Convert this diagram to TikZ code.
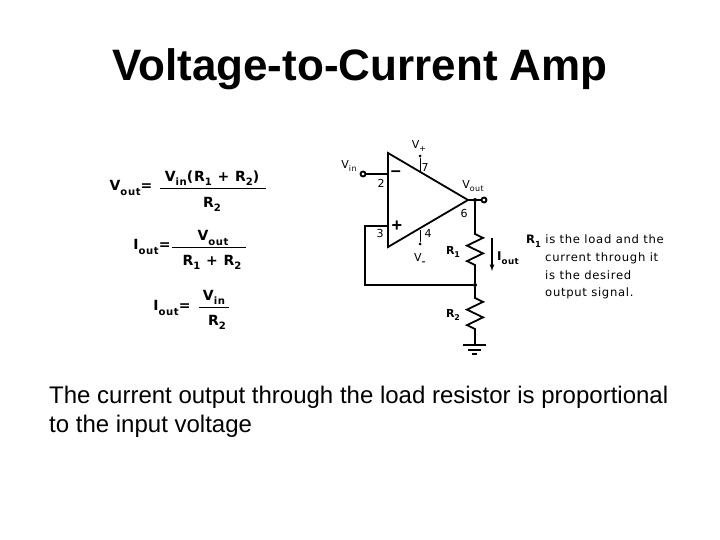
\documentclass[tikz,border=0pt]{standalone}
\usepackage{fontspec}
\setmainfont{Liberation Sans}
\newfontfamily\bitfont[LetterSpace=6]{DejaVu Sans}
\usetikzlibrary{decorations.pathmorphing}
\newcommand{\lowr}[1]{\raisebox{-0.3em}{\fontsize{0.72em}{1em}\selectfont #1}}
\tikzset{
  wire/.style={line width=1.8pt},
  resistor/.style={wire, decorate, decoration={zigzag, segment length=15.5pt, amplitude=8pt, pre length=3pt, post length=3pt}},
  pinlabel/.style={font=\bitfont\fontsize{11}{12}\selectfont, inner sep=0pt},
  partlabel/.style={font=\bitfont\bfseries\fontsize{11}{12}\selectfont, inner sep=0pt},
  eqlabel/.style={font=\bitfont\bfseries\fontsize{14}{16}\selectfont, inner sep=0pt},
  notelabel/.style={inner sep=0pt, anchor=west, font=\bitfont\fontsize{11.6}{17.3}\selectfont},
  port/.style={circle, draw, line width=1.8pt, fill=white, inner sep=0pt, minimum size=5pt},
  dotnode/.style={circle, fill=black, inner sep=0pt, minimum size=4pt}
}
\begin{document}
\begin{tikzpicture}[x=1pt, y=-1pt]
  \useasboundingbox (0,0) rectangle (720,540);

  % Title and caption
  \node (title) at (360,69) [font=\bfseries\fontsize{44}{48}\selectfont] {Voltage-to-Current Amp};
  \node (caption) at (49,412) [anchor=west, align=left, inner sep=0pt, font=\fontsize{24}{29}\selectfont]
    {The current output through the load resistor is proportional\\to the input voltage};

  % Equations
  \node (vouteq) at (131,188) [eqlabel] {V\lowr{out}=};
  \node (voutnum) at (212,178) [eqlabel] {V\lowr{in}(R\lowr{1} + R\lowr{2})};
  \node (voutden) at (212,204) [eqlabel] {R\lowr{2}};
  \coordinate (voutbarl) at (160,188);
  \coordinate (voutbarr) at (266,188);
  \node (iouteq) at (152,247) [eqlabel] {I\lowr{out}=};
  \node (ioutnum) at (213,238) [eqlabel] {V\lowr{out}};
  \node (ioutden) at (212,262) [eqlabel] {R\lowr{1} + R\lowr{2}};
  \coordinate (ioutbarl) at (172,247);
  \coordinate (ioutbarr) at (246,247);
  \node (ineq) at (172,308) [eqlabel] {I\lowr{out}=};
  \node (innum) at (214,297) [eqlabel] {V\lowr{in}};
  \node (inden) at (217,322) [eqlabel] {R\lowr{2}};
  \coordinate (inbarl) at (199,307);
  \coordinate (inbarr) at (229,307);
  \draw (voutbarl) -- (voutbarr);
  \draw (ioutbarl) -- (ioutbarr);
  \draw (inbarl) -- (inbarr);

  % Op amp
  \coordinate (ampa) at (388,153);
  \coordinate (ampb) at (388,247);
  \coordinate (ampc) at (468,200);
  \draw[wire] (ampa) -- (ampc) -- (ampb) -- cycle;
  \coordinate (minus) at (388,174);
  \coordinate (plus) at (388,226);
  \coordinate (vtop) at (420,172);
  \coordinate (vbot) at (420,230);

  % Ports and junctions
  \node (vin) at (363,174) [port] {};
  \node (vout) at (484,200) [port] {};
  \node (joutput) at (475,200) [dotnode] {};
  \node (jfeed) at (475,285) [dotnode] {};
  \node (vplus) at (420,156) [dotnode, minimum size=3pt] {};
  \node (vminus) at (420,244) [dotnode, minimum size=3pt] {};
  \coordinate (r1top) at (475,231);
  \coordinate (r1bot) at (475,275);
  \coordinate (r2top) at (475,295);
  \coordinate (r2bot) at (475,335);
  \coordinate (gnd) at (475,345);
  \coordinate (gnda) at (463,345);
  \coordinate (gndb) at (486,345);
  \coordinate (gndc) at (468,350);
  \coordinate (gndd) at (481,350);
  \coordinate (gnde) at (472,354);
  \coordinate (gndf) at (477,354);
  \coordinate (feedl) at (365,226);
  \coordinate (feedd) at (365,285);
  \coordinate (arrowtop) at (492,238);
  \coordinate (arrowbot) at (492,271);

  % Wires
  \draw[wire] (vin) -- (minus);
  \draw[wire] (ampc) -- (vout);
  \draw[wire] (joutput) -- (r1top);
  \draw[wire] (r1bot) -- (jfeed);
  \draw[wire] (jfeed) -- (r2top);
  \draw[wire] (r2bot) -- (gnd);
  \draw[resistor] (r1top) -- (r1bot);
  \draw[resistor] (r2top) -- (r2bot);
  \draw[wire] (plus) -- (feedl) -- (feedd) -- (jfeed);
  \draw (vplus) -- (vtop);
  \draw (vminus) -- (vbot);
  \draw[wire] (gnda) -- (gndb);
  \draw[wire] (gndc) -- (gndd);
  \draw[wire] (gnde) -- (gndf);
  \draw[-latex, line width=1.2pt] (arrowtop) -- (arrowbot);

  % Labels
  \node (vinlabel) at (349,166) [pinlabel] {V\lowr{in}};
  \node (voutlabel) at (473,186) [pinlabel] {V\lowr{out}};
  \node (vplabel) at (419,146) [pinlabel] {V\lowr{+}};
  \node (vmlabel) at (420,259) [pinlabel] {V\lowr{\textbf{\textendash}}};
  \node (ptwo) at (381,183) [pinlabel] {2};
  \node (pthree) at (380,233) [pinlabel] {3};
  \node (pseven) at (425,167) [pinlabel] {7};
  \node (pfour) at (428,233) [pinlabel] {4};
  \node (psix) at (464,213) [pinlabel] {6};
  \node (minussign) at (396,174) [font=\bfseries\fontsize{18}{18}\selectfont, inner sep=0pt] {\textendash};
  \node (plussign) at (397,226) [font=\bfseries\fontsize{18}{18}\selectfont, inner sep=0pt] {+};
  \node (rone) at (453,252) [partlabel] {R\lowr{1}};
  \node (rtwo) at (453,315) [partlabel] {R\lowr{2}};
  \node (ioutlabel) at (508,258) [eqlabel, font=\bitfont\bfseries\fontsize{12}{12}\selectfont] {I\lowr{out}};

  % Note
  \node (noteone) at (526,241) [notelabel] {\textbf{R\lowr{1}} is the load and the};
  \node (notetwo) at (545,276) [notelabel, align=left]
    {current through it\\is the desired\\output signal.};
\end{tikzpicture}
\end{document}
